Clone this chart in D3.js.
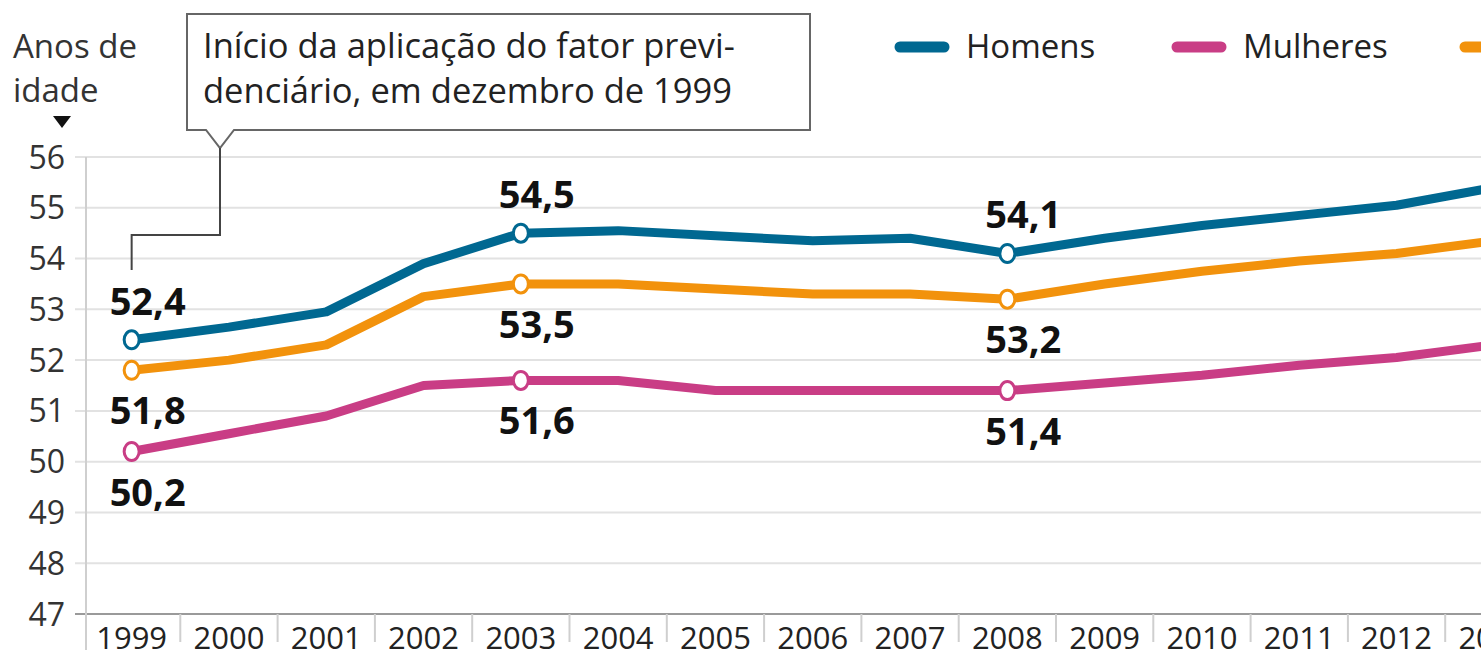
<!DOCTYPE html>
<html><head><meta charset="utf-8">
<script src="https://cdn.jsdelivr.net/npm/d3@7"></script>
<style>
html,body{margin:0;padding:0;background:#fff;overflow:hidden;}
svg{display:block;font-family:"Open Sans","Noto Sans",sans-serif;}
</style></head>
<body>
<svg id="chart" width="1481" height="659"></svg>
<script>
const years = [1999,2000,2001,2002,2003,2004,2005,2006,2007,2008,2009,2010,2011,2012,2013];
const homens   = [52.4,52.65,52.95,53.9,54.5,54.55,54.45,54.35,54.4,54.1,54.4,54.65,54.85,55.05,55.4];
const mulheres = [50.2,50.55,50.9,51.5,51.6,51.6,51.4,51.4,51.4,51.4,51.55,51.7,51.9,52.05,52.3];
const total    = [51.8,52.0,52.3,53.25,53.5,53.5,53.4,53.3,53.3,53.2,53.5,53.75,53.95,54.1,54.35];
const seriesNames = ["Homens","Mulheres","Total"];
const seriesColors = ["#006891","#c93d85","#f2920c"];
const yTicks = [47,48,49,50,51,52,53,54,55,56];
const labelYears = [1999,2003,2008];
const yTitle = ["Anos de","idade"];
const noteLines = ["Início da aplicação do fator previ-","denciário, em dezembro de 1999"];

const W = 1481, H = 659;
const svg = d3.select("#chart");
const x = d3.scaleBand().domain(years).range([83, 83 + 15*97.3]).padding(0);
const xc = d => x(d) + x.bandwidth()/2;
const y = d3.scaleLinear().domain([47,56]).range([614,157]);

// gridlines
svg.append("g").selectAll("line").data(yTicks).join("line")
  .attr("x1",75).attr("x2",W).attr("y1",d=>y(d)).attr("y2",d=>y(d))
  .attr("stroke", d => d===47 ? "#9a9a9a" : "#e2e2e2").attr("stroke-width",2);
// y axis vertical
svg.append("line").attr("x1",86).attr("x2",86).attr("y1",y(56)).attr("y2",650)
  .attr("stroke","#cfcfcf").attr("stroke-width",2);
// y labels
svg.append("g").selectAll("text").data(yTicks).join("text")
  .attr("x",65).attr("y",d=>y(d)).attr("dy","0.36em").attr("text-anchor","end")
  .attr("font-size",32).attr("fill","#333").text(d=>d);

// x axis
const xAxis = d3.axisBottom(x).tickSize(0).tickPadding(0).tickFormat(d=>d);
const gx = svg.append("g").attr("transform",`translate(0,${y(47)})`).call(xAxis);
gx.select(".domain").remove();
gx.selectAll("text").attr("font-size",31).attr("fill","#222").attr("dy",null).attr("y",35)
  .attr("font-family","Open Sans");
// separators
svg.append("g").selectAll("line").data(years.slice(1)).join("line")
  .attr("x1",d=>x(d)).attr("x2",d=>x(d)).attr("y1",y(47)).attr("y2",y(47)+28)
  .attr("stroke","#cfcfcf").attr("stroke-width",2);

// y title
svg.append("text").attr("x",13).attr("y",58).attr("font-size",33).attr("fill","#333")
  .selectAll("tspan").data(yTitle).join("tspan").attr("x",13).attr("dy",(d,i)=>i?44:0).text(d=>d);
svg.append("path").attr("d","M53,116 L71,116 L62,128 Z").attr("fill","#111");

// annotation box
svg.append("path")
  .attr("d","M187,14 L810,14 L810,130 L234,130 L220,148 L206,130 L187,130 Z")
  .attr("fill","#fff").attr("stroke","#666").attr("stroke-width",2);
svg.append("path").attr("d",`M220,148 L220,235 L${xc(1999)},235 L${xc(1999)},270`)
  .attr("fill","none").attr("stroke","#444").attr("stroke-width",2);
svg.append("text").attr("font-size",34.5).attr("fill","#222")
  .selectAll("tspan").data(noteLines).join("tspan").attr("x",203).attr("y",(d,i)=>58+i*45).text(d=>d);

// legend
const legX = [900,1177,1465];
seriesNames.forEach((n,i)=>{
  svg.append("line").attr("x1",legX[i]).attr("x2",legX[i]+44).attr("y1",47).attr("y2",47)
    .attr("stroke",seriesColors[i]).attr("stroke-width",11).attr("stroke-linecap","round");
  svg.append("text").attr("x",legX[i]+66).attr("y",58).attr("font-size",33).attr("fill","#222").text(n);
});

// lines
const data = [homens,mulheres,total];
const drawOrder = [0,2,1];
const line = d3.line().x((d,i)=>xc(years[i])).y(d=>y(d)).curve(d3.curveLinear);
drawOrder.forEach(si=>{
  svg.append("path").datum(data[si]).attr("d",line).attr("fill","none")
    .attr("stroke",seriesColors[si]).attr("stroke-width",9).attr("stroke-linejoin","round");
});
// markers + labels
const fmt = v => d3.format(".1f")(v).replace(".",",");
data.forEach((vals,si)=>{
  labelYears.forEach(yr=>{
    const i = years.indexOf(yr);
    svg.append("ellipse").attr("cx",xc(yr)).attr("cy",y(vals[i])).attr("rx",7.5).attr("ry",9)
      .attr("fill","#fff").attr("stroke",seriesColors[si]).attr("stroke-width",3);
    const above = si===0;
    svg.append("text").attr("x",xc(yr)+16).attr("y",y(vals[i]) + (above?-25:54))
      .attr("text-anchor","middle").attr("font-size",38).attr("font-weight","bold").attr("fill","#111")
      .text(fmt(vals[i]));
  });
});
</script>
</body></html>
